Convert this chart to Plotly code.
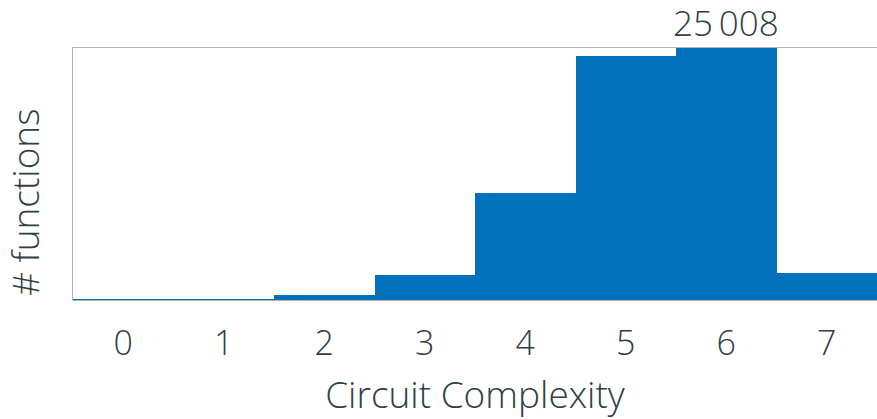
import plotly.graph_objects as go

complexity = [0, 1, 2, 3, 4, 5, 6, 7]
n_functions = [10, 60, 456, 2474, 10624, 24184, 25008, 2720]

peak = max(n_functions)
peak_x = complexity[n_functions.index(peak)]
peak_label = f"{peak:,}".replace(",", "\u2009")

font_family = "Open Sans"
text_color = "#2f4045"

fig = go.Figure()
fig.add_trace(go.Bar(x=complexity,
                     y=n_functions,
                     width=1,
                     marker=dict(color="#0070bb", line=dict(width=0)),
                     showlegend=False))

fig.add_annotation(x=peak_x, y=peak, text=peak_label,
                   showarrow=False, yanchor="bottom", yshift=0,
                   font=dict(size=35, color=text_color, family=font_family, weight=300))

# y title as an annotation, it sits a bit below the middle of the plot
fig.add_annotation(xref="paper", yref="paper", x=0, y=0.385,
                   xanchor="center", yanchor="middle", xshift=-48,
                   text="# functions", textangle=-90, showarrow=False,
                   font=dict(size=37, color=text_color, family=font_family, weight=300))

fig.update_layout(width=877, height=419,
                  margin=dict(l=73, r=0, t=48, b=119),
                  plot_bgcolor="white",
                  paper_bgcolor="white",
                  bargap=0,
                  font=dict(family=font_family, size=34, color=text_color, weight=300))

fig.update_xaxes(range=[-0.5, 7.5],
                 tickmode="array", tickvals=complexity,
                 ticks="outside", ticklen=13, tickcolor="rgba(0,0,0,0)",
                 tickfont=dict(size=34, weight=300),
                 showline=True, mirror=True, linecolor="#b4b4b4", linewidth=1,
                 showgrid=False, zeroline=False,
                 title=dict(text="Circuit Complexity", standoff=20,
                            font=dict(size=37, weight=300)))

fig.update_yaxes(range=[0, peak],
                 showticklabels=False, ticks="",
                 showline=True, mirror=True, linecolor="#b4b4b4", linewidth=1,
                 showgrid=False, zeroline=False)

# drop the default body margin so the figure fills the window
fig.write_html("out.html",
               config={"displayModeBar": False},
               post_script="document.body.style.margin='0';document.body.style.overflow='hidden';")
